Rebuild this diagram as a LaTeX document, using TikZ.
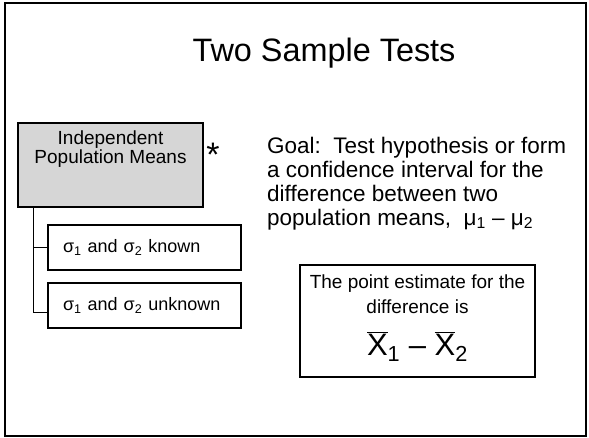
\documentclass[tikz,border=0pt]{standalone}
\usepackage{fontspec}
\setmainfont{Liberation Sans}
\begin{document}
\begin{tikzpicture}[x=1pt,y=-1pt,
  box/.style={draw,line width=1.2pt,inner sep=0pt},
  sigbox/.style={box,minimum height=45pt,text width=163pt,inner xsep=15pt,align=left,font=\fontsize{18}{20}\selectfont},
  conn/.style={line width=1.2pt}]
\useasboundingbox (0,0) rectangle (589,438);
\draw[line width=2pt] (5,3) rectangle (586,436);
\node[font=\fontsize{32.4}{36}\selectfont] (title) at (324,53) {Two Sample Tests};
\node[box,fill=black!16,minimum width=185pt,minimum height=84pt] (indep) at (110.5,165) {};
\node[font=\fontsize{19}{19}\selectfont,align=center] (indeptxt) at (110.5,149.5) {Independent\\Population Means};
\node[font=\fontsize{34}{34}\selectfont,inner sep=0pt] (star) at (213,155) {*};
\node[sigbox] (known) at (144.5,247.5) {σ\textsubscript{1} and σ\textsubscript{2} known};
\node[sigbox] (unknown) at (144.5,305.5) {σ\textsubscript{1} and σ\textsubscript{2} unknown};
\draw[conn] ([xshift=16pt]indep.south west) |- (known.west);
\draw[conn] ([xshift=16pt]indep.south west) |- ([yshift=-7pt]unknown.west);
\node[anchor=north west,inner sep=0pt,align=left,font=\fontsize{22.5}{24}\selectfont] (goal) at (267,136.5)
  {Goal:\ \ Test hypothesis or form\\a confidence interval for the\\difference between two\\population means,\ \ μ\textsubscript{1} – μ\textsubscript{2}};
\node[box,minimum width=235pt,minimum height=112pt] (est) at (417.5,321) {};
\node[anchor=north,inner sep=0pt,align=center,font=\fontsize{19}{25}\selectfont] (esttxt) at (417.5,275)
  {The point estimate for the\\difference is};
\node[font=\fontsize{31}{31}\selectfont,inner sep=0pt] (diff) at (417.5,347)
  {$\overline{\mbox{X}}$\textsubscript{1} – $\overline{\mbox{X}}$\textsubscript{2}};
\end{tikzpicture}
\end{document}
